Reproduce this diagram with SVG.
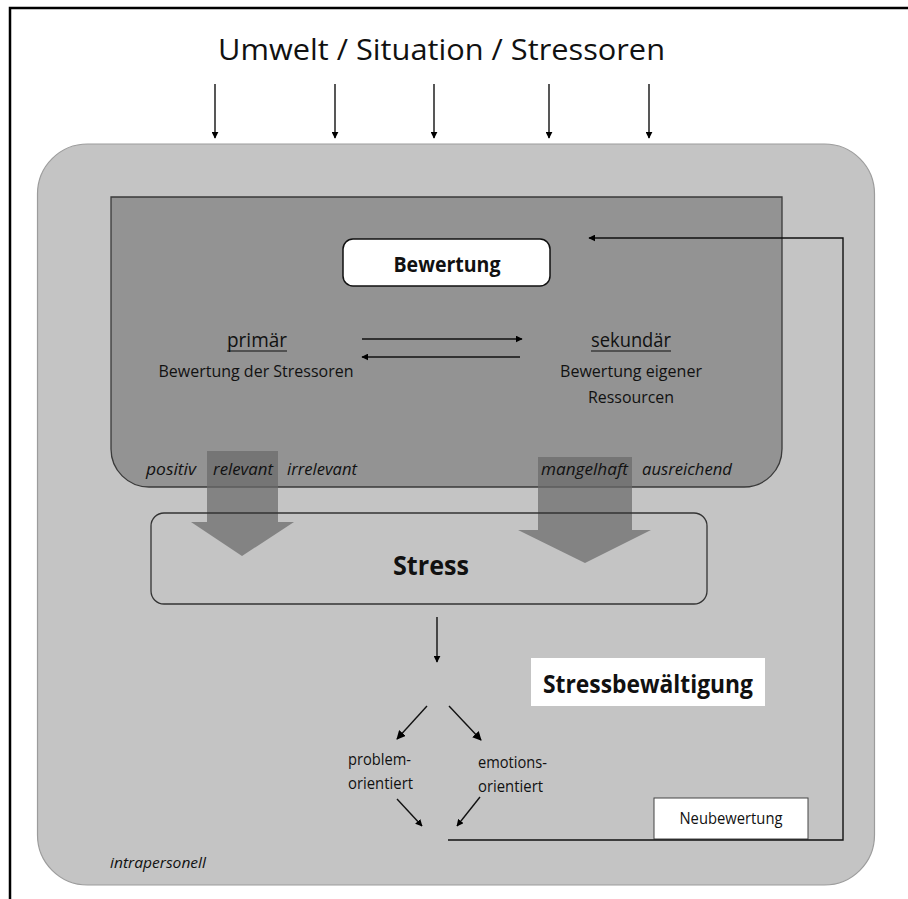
<svg xmlns="http://www.w3.org/2000/svg" width="908" height="899" viewBox="0 0 908 899">
<defs>
<marker id="ah" viewBox="0 0 10 10" refX="9" refY="5" markerWidth="7" markerHeight="7" markerUnits="userSpaceOnUse" orient="auto">
<path d="M0,0 L10,5 L0,10 z" fill="#000"/>
</marker>
<marker id="ah2" viewBox="0 0 10 10" refX="9" refY="5" markerWidth="9" markerHeight="9" markerUnits="userSpaceOnUse" orient="auto">
<path d="M0,0 L10,5 L0,10 z" fill="#000"/>
</marker>
</defs>
<style>
text{font-family:"Open Sans","Liberation Sans",sans-serif;fill:#111}
.b{font-weight:bold}
.i{font-style:italic}
.c{text-anchor:middle}
.ln{stroke:#111;stroke-width:1.4;fill:none}
.big{fill:#6a6a6a;fill-opacity:0.72}
</style>
<rect width="908" height="899" fill="#fff"/>
<path d="M10,899 V8 H908" fill="none" stroke="#000" stroke-width="2.5"/>
<g id="title">
<text x="218" y="60" font-size="30" textLength="447" lengthAdjust="spacingAndGlyphs">Umwelt / Situation / Stressoren</text>
</g>
<g id="intrapersonell">
<rect x="37.5" y="144" width="837" height="741" rx="50" ry="50" fill="#c4c4c4" stroke="#9c9c9c" stroke-width="1.2"/>
<text class="i" x="110" y="868" font-size="15" textLength="96" lengthAdjust="spacingAndGlyphs">intrapersonell</text>
</g>
<g id="bewertung-area">
<path d="M111,197 H782 V449 A38,38 0 0 1 744,487 H149 A38,38 0 0 1 111,449 Z" fill="#939393" stroke="#3a3a3a" stroke-width="1.3"/>
</g>
<g id="big-arrows">
<path class="big" d="M207,451 H278 V522 H294 L242,556 L191,522 H207 Z"/>
<path class="big" d="M538,457 H632 V530 H651 L585,563 L518,530 H538 Z"/>
</g>
<g id="labels">
<text class="i" x="146" y="475" font-size="17" textLength="50" lengthAdjust="spacingAndGlyphs">positiv</text>
<text class="i" x="213" y="475" font-size="17" textLength="60" lengthAdjust="spacingAndGlyphs">relevant</text>
<text class="i" x="287" y="475" font-size="17" textLength="70" lengthAdjust="spacingAndGlyphs">irrelevant</text>
<text class="i" x="541" y="475" font-size="17" textLength="87" lengthAdjust="spacingAndGlyphs">mangelhaft</text>
<text class="i" x="642" y="475" font-size="17" textLength="90" lengthAdjust="spacingAndGlyphs">ausreichend</text>
</g>
<g id="bewertung">
<rect x="343" y="239" width="207" height="47" rx="10" ry="10" fill="#fff" stroke="#111" stroke-width="1.5"/>
<text class="b c" x="447" y="272" font-size="21" textLength="107" lengthAdjust="spacingAndGlyphs">Bewertung</text>
</g>
<g id="primaer">
<text class="c" x="257" y="347" font-size="20" textLength="60" lengthAdjust="spacingAndGlyphs">primär</text>
<line x1="227" y1="351" x2="287" y2="351" stroke="#111" stroke-width="1.2"/>
<text class="c" x="256" y="377" font-size="17" textLength="195" lengthAdjust="spacingAndGlyphs">Bewertung der Stressoren</text>
</g>
<g id="sekundaer">
<text class="c" x="631" y="347" font-size="20" textLength="80" lengthAdjust="spacingAndGlyphs">sekundär</text>
<line x1="591" y1="351" x2="671" y2="351" stroke="#111" stroke-width="1.2"/>
<text class="c" x="631" y="377" font-size="17" textLength="142" lengthAdjust="spacingAndGlyphs">Bewertung eigener</text>
<text class="c" x="631" y="403" font-size="17" textLength="86" lengthAdjust="spacingAndGlyphs">Ressourcen</text>
</g>
<g id="stress">
<rect x="151" y="513" width="556" height="91" rx="13" ry="13" fill="none" stroke="#333" stroke-width="1.3"/>
<text class="b c" x="431" y="575" font-size="27" textLength="76" lengthAdjust="spacingAndGlyphs">Stress</text>
</g>
<g id="stressbewaeltigung">
<rect x="531" y="658" width="234" height="48" fill="#fff"/>
<text class="b c" x="648" y="693" font-size="25" textLength="210" lengthAdjust="spacingAndGlyphs">Stressbewältigung</text>
</g>
<g id="problemorientiert">
<text x="348" y="765" font-size="16" textLength="63" lengthAdjust="spacingAndGlyphs">problem-</text>
<text x="348" y="789" font-size="16" textLength="65" lengthAdjust="spacingAndGlyphs">orientiert</text>
</g>
<g id="emotionsorientiert">
<text x="478" y="768" font-size="16" textLength="69" lengthAdjust="spacingAndGlyphs">emotions-</text>
<text x="478" y="792" font-size="16" textLength="65" lengthAdjust="spacingAndGlyphs">orientiert</text>
</g>
<g id="neubewertung">
<rect x="654" y="798" width="154" height="41" fill="#fff" stroke="#444" stroke-width="1"/>
<text class="c" x="731" y="824" font-size="16" textLength="103" lengthAdjust="spacingAndGlyphs">Neubewertung</text>
</g>
<g id="connectors">
<line class="ln" x1="215" y1="84" x2="215" y2="138" marker-end="url(#ah)"/>
<line class="ln" x1="335" y1="84" x2="335" y2="138" marker-end="url(#ah)"/>
<line class="ln" x1="434" y1="84" x2="434" y2="138" marker-end="url(#ah)"/>
<line class="ln" x1="549" y1="84" x2="549" y2="138" marker-end="url(#ah)"/>
<line class="ln" x1="649" y1="84" x2="649" y2="138" marker-end="url(#ah)"/>
<line class="ln" x1="362" y1="339" x2="522" y2="339" marker-end="url(#ah)"/>
<line class="ln" x1="520" y1="357" x2="362" y2="357" marker-end="url(#ah)"/>
<line class="ln" x1="437" y1="617" x2="437" y2="662" marker-end="url(#ah)"/>
<line class="ln" x1="427" y1="706" x2="397" y2="739" marker-end="url(#ah2)"/>
<line class="ln" x1="449" y1="706" x2="481" y2="740" marker-end="url(#ah2)"/>
<line class="ln" x1="397" y1="799" x2="422" y2="826" marker-end="url(#ah)"/>
<line class="ln" x1="480" y1="797" x2="457" y2="826" marker-end="url(#ah)"/>
<path class="ln" d="M448,840 H843 V238 H589" marker-end="url(#ah)"/>
</g>
</svg>
